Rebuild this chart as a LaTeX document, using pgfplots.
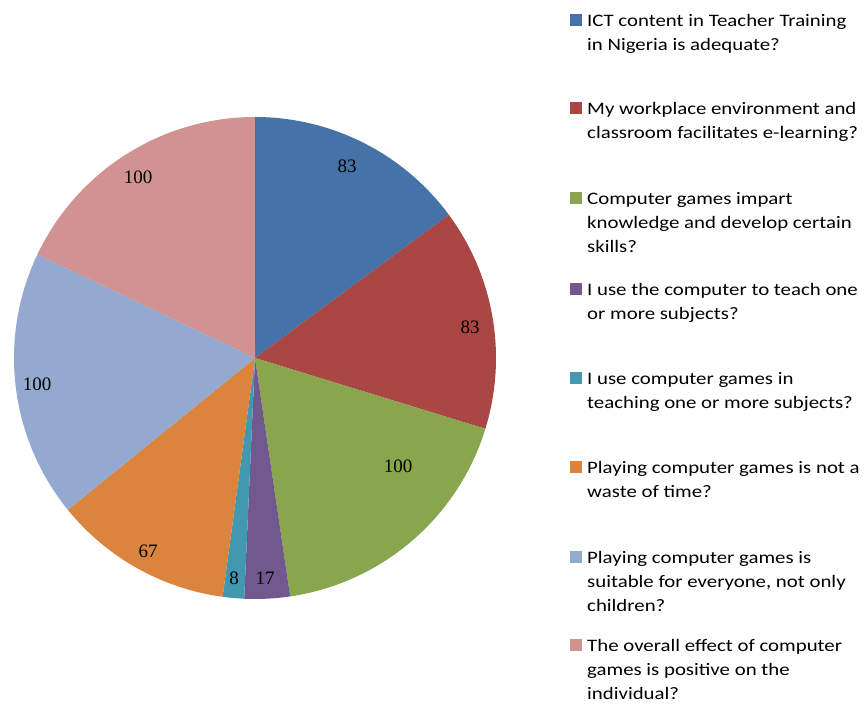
\documentclass[border=0pt]{standalone}
\usepackage{pgfplots}
\pgfplotsset{compat=1.18}
\usepackage{fontspec}
\setmainfont{Carlito}
\newfontfamily\legendfont[FakeStretch=1.19]{Carlito}
\newfontfamily\labelfont{Liberation Serif}
\definecolor{c1}{HTML}{4572A7}
\definecolor{c2}{HTML}{AA4643}
\definecolor{c3}{HTML}{89A54E}
\definecolor{c4}{HTML}{71588F}
\definecolor{c5}{HTML}{4198AF}
\definecolor{c6}{HTML}{DB843D}
\definecolor{c7}{HTML}{93A9CF}
\definecolor{c8}{HTML}{D19392}
\begin{document}
\begin{tikzpicture}
\begin{axis}[
  x=1pt, y=1pt, xmin=0, xmax=866, ymin=0, ymax=707,
  hide axis, clip=false, scale only axis,
]
\path[use as bounding box] (axis cs:0,0) rectangle (axis cs:866,707);
% values (plain numbers), total 558
\pgfmathsetmacro{\tot}{83+83+100+17+8+67+100+100}
\def\cx{255}\def\cy{349}\def\R{241}
\xdef\start{90}
\foreach \v/\col in {83/c1,83/c2,100/c3,17/c4,8/c5,67/c6,100/c7,100/c8}{
  \pgfmathsetmacro{\sweep}{\v/\tot*360}
  \pgfmathsetmacro{\en}{\start-\sweep}
  \edef\temp{\noexpand\fill[\col] (axis cs:\cx,\cy) -- ++(\start:\R pt) arc[start angle=\start, end angle=\en, radius=\R pt] -- cycle;}
  \temp
  \xdef\start{\en}
}
% data labels
\tikzset{lbl/.style={font=\labelfont\fontsize{19}{21}\selectfont, inner sep=0pt}}
\node[lbl] at (axis cs:347,541) {83};
\node[lbl] at (axis cs:470,380) {83};
\node[lbl] at (axis cs:398,241) {100};
\node[lbl] at (axis cs:265,129) {17};
\node[lbl] at (axis cs:234,129) {8};
\node[lbl] at (axis cs:148,156) {67};
\node[lbl] at (axis cs:37,323) {100};
\node[lbl] at (axis cs:138,530) {100};
% legend
\foreach \y/\col/\txt in {
  20/c1/{ICT content in Teacher Training\\in Nigeria is adequate?},
  108/c2/{My workplace environment and\\classroom facilitates e-learning?},
  198/c3/{Computer games impart\\knowledge and develop certain\\skills?},
  289/c4/{I use the computer to teach one\\or more subjects?},
  378/c5/{I use computer games in\\teaching one or more subjects?},
  467/c6/{Playing computer games is not a\\waste of time?},
  557/c7/{Playing computer games is\\suitable for everyone, not only\\children?},
  645/c8/{The overall effect of computer\\games is positive on the\\individual?}}{
  \pgfmathsetmacro{\ya}{707-\y-6}
  \pgfmathsetmacro{\yb}{707-\y+6}
  \pgfmathsetmacro{\yt}{707-\y+6}
  \edef\temp{\noexpand\fill[\col] (axis cs:570,\ya) rectangle (axis cs:582,\yb);
    \noexpand\node[anchor=north west, align=left, inner sep=0pt, font=\noexpand\legendfont\noexpand\fontsize{17.5}{24}\noexpand\selectfont] at (axis cs:587,\yt) {\unexpanded\expandafter{\txt}};}
  \temp
}
\end{axis}
\end{tikzpicture}
\end{document}
